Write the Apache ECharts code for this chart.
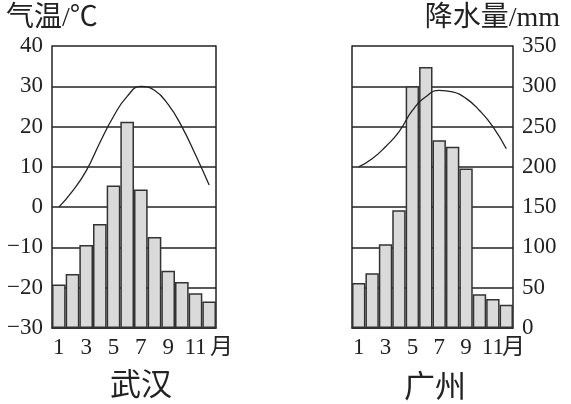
<!DOCTYPE html>
<html>
<head>
<meta charset="utf-8">
<script src="https://cdn.jsdelivr.net/npm/echarts@6/dist/echarts.min.js"></script>
<style>
  html, body { margin: 0; padding: 0; background: #fff; }
  #chart { width: 571px; height: 404px; }
</style>
</head>
<body>
<div id="chart"></div>
<script>
var months = ['1', '2', '3', '4', '5', '6', '7', '8', '9', '10', '11', '12'];
var monthLabels = ['1', '', '3', '', '5', '', '7', '', '9', '', '11', ''];
// 武汉
var whTemp = [0, 4, 9, 16, 22.5, 27.5, 30, 29, 25.5, 20, 13, 5.5];
var whRain = [54, 67, 103, 129, 177, 256, 172, 113, 71, 57, 43, 33];
// 广州
var gzTemp = [10, 12, 15, 18.7, 24, 27.4, 29, 28.6, 27, 24, 20, 14.5];
var gzRain = [56, 68, 104, 146, 300, 324, 233, 225, 198, 42, 36, 29];

var ink = '#222';
var serif = '"Liberation Serif", "Noto Sans CJK SC", serif';
var tickFont = { color: ink, fontSize: 23, fontFamily: serif };

function xAxisOf(gridIndex, gap) {
    return {
        type: 'category',
        gridIndex: gridIndex,
        data: months,
        name: '月',
        nameLocation: 'end',
        nameGap: gap,
        nameMoveOverlap: false,
        nameTextStyle: { color: ink, fontSize: 23, fontFamily: serif, verticalAlign: 'top', padding: [8, 0, 0, 0] },
        axisLine: { onZero: false, lineStyle: { color: ink, width: 1.5 } },
        axisTick: { show: false },
        axisLabel: Object.assign({
            interval: 0,
            margin: 8,
            formatter: function(v, i) { return monthLabels[i]; }
        }, tickFont),
        splitLine: { show: false }
    };
}

function tempAxis(gridIndex, showLabel) {
    return {
        type: 'value',
        gridIndex: gridIndex,
        position: 'left',
        min: -30, max: 40, interval: 10,
        axisLine: { show: true, lineStyle: { color: ink, width: 1.5 } },
        axisTick: { show: false },
        axisLabel: Object.assign({
            show: showLabel,
            margin: 9,
            formatter: function(v) { return String(v).replace('-', '\u2212'); }
        }, tickFont),
        splitLine: { show: showLabel, lineStyle: { color: ink, width: 1.5 } }
    };
}

function rainAxis(gridIndex, showLabel) {
    return {
        type: 'value',
        gridIndex: gridIndex,
        position: 'right',
        min: 0, max: 350, interval: 50,
        axisLine: { show: true, lineStyle: { color: ink, width: 1.5 } },
        axisTick: { show: false },
        axisLabel: Object.assign({ show: showLabel, margin: 9 }, tickFont),
        splitLine: { show: showLabel, lineStyle: { color: ink, width: 1.5 } }
    };
}

var barStyle = { color: '#dadada', borderColor: '#333', borderWidth: 1.5 };
var lineStyle = { color: ink, width: 1.3 };

var option = {
    animation: false,
    grid: [
        { left: 52, right: 355, top: 46, bottom: 76 },
        { left: 352, right: 58, top: 46, bottom: 76 }
    ],
    xAxis: [xAxisOf(0, -6), xAxisOf(1, -11)],
    yAxis: [tempAxis(0, true), rainAxis(0, false), tempAxis(1, false), rainAxis(1, true)],
    series: [{
        type: 'bar', xAxisIndex: 0, yAxisIndex: 1,
        barCategoryGap: 0, itemStyle: barStyle, data: whRain
    }, {
        type: 'line', xAxisIndex: 0, yAxisIndex: 0, smooth: true,
        symbol: 'none', lineStyle: lineStyle, data: whTemp
    }, {
        type: 'bar', xAxisIndex: 1, yAxisIndex: 3,
        barCategoryGap: 0, itemStyle: barStyle, data: gzRain
    }, {
        type: 'line', xAxisIndex: 1, yAxisIndex: 2, smooth: true,
        symbol: 'none', lineStyle: lineStyle, data: gzTemp
    }],
    graphic: [
        { type: 'text', x: 6, y: 19, style: { text: '气温/℃', fill: ink, font: '28px ' + serif, textVerticalAlign: 'middle' } },
        { type: 'text', x: 560, y: 19, style: { text: '降水量/mm', fill: ink, font: '28px ' + serif, textAlign: 'right', textVerticalAlign: 'middle' } },
        { type: 'text', x: 141, y: 383, style: { text: '武汉', fill: ink, font: '31px "Noto Sans CJK SC"', textAlign: 'center', textVerticalAlign: 'middle' } },
        { type: 'text', x: 435, y: 385, style: { text: '广州', fill: ink, font: '31px "Noto Sans CJK SC"', textAlign: 'center', textVerticalAlign: 'middle' } }
    ]
};

var chart = echarts.init(document.getElementById('chart'));
chart.setOption(option);
window.onresize = function() {
    chart.resize();
};
</script>
</body>
</html>
